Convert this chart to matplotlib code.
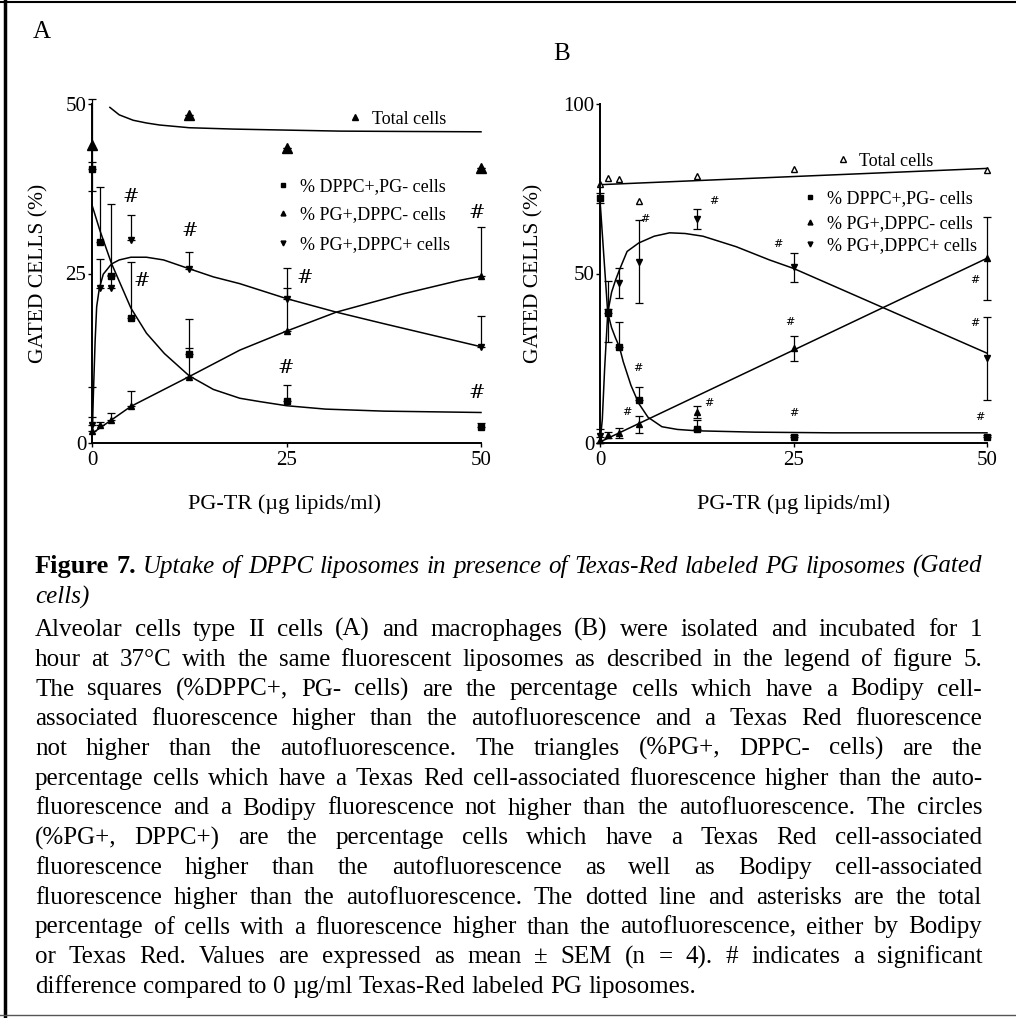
import matplotlib
matplotlib.use("Agg")
import matplotlib.pyplot as plt
from matplotlib.lines import Line2D

plt.rcParams['font.family'] = ['Liberation Serif', 'DejaVu Serif']

# ---------------- data: panel A (alveolar type II cells) ----------------
xA = [0, 1, 2.5, 5, 12.5, 25, 50]
a_dppc = [40.4, 29.7, 24.7, 18.4, 13.2, 6.2, 2.3]
a_dppc_hi = [1.0, 8.0, 10.5, 8.3, 5.1, 2.4, 0.6]
a_pg = [1.7, 2.6, 3.4, 5.5, 9.8, 16.5, 24.6]
a_pg_hi = [2.2, 0.5, 1.0, 2.2, 4.2, 6.4, 7.2]
a_both = [2.6, 22.8, 22.8, 29.9, 25.7, 21.3, 14.2]
a_both_hi = [5.7, 4.3, 2.0, 3.8, 2.4, 4.5, 4.5]
xA_total = [0, 12.5, 25, 50]
a_total = [44.0, 48.4, 43.5, 40.6]
a_total_err = [6.8, 0, 0, 0]

# fitted curves
fitA_total_x = [2.3, 3.5, 5.3, 7, 8.7, 12.5, 18.2, 25, 31.9, 40, 50]
fitA_total_y = [49.5, 48.4, 47.6, 47.2, 46.9, 46.5, 46.3, 46.15, 46.0, 45.95, 45.9]
fitA_dppc_x = [0, 1, 2.5, 5, 7, 9.3, 12.5, 15.6, 19, 21.6, 25, 30, 37.5, 50]
fitA_dppc_y = [35.1, 31.4, 26.5, 19.9, 16.2, 13.2, 9.9, 7.9, 6.6, 6.1, 5.5, 5.0, 4.7, 4.5]
fitA_pg_x = [0, 2.5, 5, 12.5, 19, 25, 31.4, 40, 47.3, 50]
fitA_pg_y = [1.4, 3.4, 5.4, 9.8, 13.7, 16.5, 19.3, 22.0, 24.0, 24.6]
fitA_both_x = [0, 0.2, 0.4, 0.6, 0.94, 1.45, 2.5, 3.5, 5, 7, 9.2, 12.5, 15.6, 19, 25, 31.4, 37.5, 50]
fitA_both_y = [0.5, 8, 15, 20.1, 22.8, 24.9, 26.4, 27.0, 27.4, 27.4, 27.0, 25.7, 24.5, 23.5, 21.3, 19.3, 17.6, 14.2]

hashA_x = [5.0, 6.4, 12.6, 27.4, 24.9, 49.5, 49.4]
hashA_y = [36.3, 23.9, 31.3, 24.3, 11.0, 33.9, 7.4]

# ---------------- data: panel B (macrophages) ----------------
xB = [0, 1, 2.5, 5, 12.5, 25, 50]
b_dppc = [72.2, 38.4, 28.4, 12.7, 4.0, 1.9, 1.9]
b_dppc_lo = [1.5, 0, 0, 0, 0, 0, 0]
b_dppc_hi = [1.5, 1.0, 7.2, 3.9, 2.8, 0.6, 0.6]
b_pg = [0.9, 2.4, 2.9, 5.5, 9.2, 27.9, 54.5]
b_pg_err = [0.8, 0.8, 1.4, 2.5, 1.7, 3.6, 12.2]
b_both = [2.0, 38.7, 47.1, 53.5, 66.0, 51.8, 25.0]
b_both_err = [2.0, 9.0, 4.4, 12.3, 2.9, 4.3, 12.2]
b_total = [76.4, 78.1, 77.8, 71.4, 78.8, 80.7, 80.5]

fitB_total_x = [0, 50]
fitB_total_y = [76.2, 81.0]
fitB_dppc_x = [0, 0.5, 1, 1.5, 2, 2.5, 3, 4, 5, 6.2, 8, 10, 12.5, 20, 30, 50]
fitB_dppc_y = [71.7, 55, 38.4, 34, 31, 28.4, 24, 17, 11.7, 7.6, 4.8, 4.0, 3.6, 3.2, 3.0, 3.0]
fitB_pg_x = [0, 50]
fitB_pg_y = [0.3, 54.5]
fitB_both_x = [0, 0.3, 0.6, 1, 1.5, 2, 2.5, 3.5, 5, 7, 9, 11, 13.3, 17.6, 21.9, 25, 36.6, 50]
fitB_both_y = [0, 7, 22, 38.4, 44.5, 48, 51, 56.5, 59, 61, 62, 61.8, 61, 57.9, 54.0, 51.5, 39.9, 26.5]

hashB_x = [3.5, 4.9, 5.8, 14.0, 14.7, 23.0, 24.5, 25.0, 48.4, 48.4, 49.1]
hashB_y = [9.2, 22.0, 66.0, 11.9, 71.4, 58.7, 35.8, 8.8, 48.1, 35.5, 7.8]

legend_labels = ["% DPPC+,PG- cells", "% PG+,DPPC- cells", "% PG+,DPPC+ cells"]
total_label = "Total cells"
ylabel = "GATED CELLS (%)"
xlabel = "PG-TR (\u00b5g lipids/ml)"

caption_title = "Uptake of DPPC liposomes in presence of Texas-Red labeled PG liposomes (Gated"
caption_title2 = "cells)"
caption_lines = [
    "Alveolar cells type II cells (A) and macrophages (B) were isolated and incubated for 1",
    "hour at 37\u00b0C with the same fluorescent liposomes as described in the legend of figure 5.",
    "The squares (%DPPC+, PG- cells) are the percentage cells which have a Bodipy cell-",
    "associated fluorescence higher than the autofluorescence and a Texas Red fluorescence",
    "not higher than the autofluorescence. The triangles (%PG+, DPPC- cells) are the",
    "percentage cells which have a Texas Red cell-associated fluorescence higher than the auto-",
    "fluorescence and a Bodipy fluorescence not higher than the autofluorescence. The circles",
    "(%PG+, DPPC+) are the percentage cells which have a Texas Red cell-associated",
    "fluorescence higher than the autofluorescence as well as Bodipy cell-associated",
    "fluorescence higher than the autofluorescence. The dotted line and asterisks are the total",
    "percentage of cells with a fluorescence higher than the autofluorescence, either by Bodipy",
    "or Texas Red. Values are expressed as mean \u00b1 SEM (n = 4). # indicates a significant",
    "difference compared to 0 \u00b5g/ml Texas-Red labeled PG liposomes.",
]

# ---------------- figure ----------------
W, H = 1016, 1018
fig = plt.figure(figsize=(W / 100, H / 100), dpi=100)
fig.patch.set_facecolor('white')


def fx(px):
    return px / W


def fy(py):
    return 1 - py / H


axA = fig.add_axes([fx(92), fy(443), (481 - 92) / W, (443 - 104) / H])
axB = fig.add_axes([fx(600), fy(443), (987 - 600) / W, (443 - 104) / H])

for ax in (axA, axB):
    ax.patch.set_alpha(0)
    for s in ('top', 'right'):
        ax.spines[s].set_visible(False)
    for s in ('left', 'bottom'):
        ax.spines[s].set_linewidth(1.4)
    ax.set_xlim(0, 50)
    ax.set_xticks([0, 25, 50])
    ax.tick_params(axis='x', direction='out', length=3, width=1, labelsize=15, pad=3)
    ax.tick_params(axis='y', direction='out', length=3, width=1, labelsize=15, pad=1)
    ax.set_ylabel(ylabel, fontsize=15.5)
    ax.set_xlabel(xlabel, fontsize=16)

axA.set_ylim(0, 50)
axA.set_yticks([0, 25, 50])
axB.set_ylim(0, 100)
axB.set_yticks([0, 50, 100])
axA.yaxis.set_label_coords((48 - 92) / 389, 0.5)
axB.yaxis.set_label_coords((543 - 600) / 387, 0.5)
axA.xaxis.set_label_coords(0.496, -0.15)
axB.xaxis.set_label_coords(0.501, -0.15)

lw = 1.1
ekw = dict(fmt='none', ecolor='black', elinewidth=0.9, capsize=3, capthick=0.9, clip_on=False)

# ---- Panel A ----
axA.plot(fitA_total_x, fitA_total_y, color='black', lw=lw, clip_on=False)
axA.plot(fitA_dppc_x, fitA_dppc_y, color='black', lw=lw, clip_on=False)
axA.plot(fitA_pg_x, fitA_pg_y, color='black', lw=lw, clip_on=False)
axA.plot(fitA_both_x, fitA_both_y, color='black', lw=lw, clip_on=False)
zeros = [0] * len(xA)
axA.errorbar(xA, a_dppc, yerr=[zeros, a_dppc_hi], **ekw)
axA.errorbar(xA, a_pg, yerr=[zeros, a_pg_hi], **ekw)
axA.errorbar(xA, a_both, yerr=[zeros, a_both_hi], **ekw)
axA.errorbar(xA_total, a_total, yerr=a_total_err, **ekw)
axA.plot(xA, a_dppc, 's', color='black', ms=4, clip_on=False)
axA.plot(xA, a_pg, '^', color='black', ms=4, clip_on=False)
axA.plot(xA, a_both, 'v', color='black', ms=4, clip_on=False)
axA.plot(xA_total, a_total, '^', color='black', ms=6.5, clip_on=False)
for hx, hy in zip(hashA_x, hashA_y):
    axA.text(hx, hy, '#', ha='center', va='center', fontsize=14, family='DejaVu Serif')

# ---- Panel B ----
axB.plot(fitB_total_x, fitB_total_y, color='black', lw=lw, clip_on=False)
axB.plot(fitB_dppc_x, fitB_dppc_y, color='black', lw=lw, clip_on=False)
axB.plot(fitB_pg_x, fitB_pg_y, color='black', lw=lw, clip_on=False)
axB.plot(fitB_both_x, fitB_both_y, color='black', lw=lw, clip_on=False)
axB.errorbar(xB, b_dppc, yerr=[b_dppc_lo, b_dppc_hi], **ekw)
axB.errorbar(xB, b_pg, yerr=b_pg_err, **ekw)
axB.errorbar(xB, b_both, yerr=b_both_err, **ekw)
axB.plot(xB, b_dppc, 's', color='black', ms=4, clip_on=False)
axB.plot(xB, b_pg, '^', color='black', ms=4, clip_on=False)
axB.plot(xB, b_both, 'v', color='black', ms=4, clip_on=False)
axB.plot(xB, b_total, '^', mfc='white', mec='black', mew=1, ms=5, clip_on=False)
for hx, hy in zip(hashB_x, hashB_y):
    axB.text(hx, hy, '#', ha='center', va='center', fontsize=8, family='DejaVu Serif')


# ---- legends (figure pixel positions) ----
def marker_at(px, py, m, ms, filled=True):
    fig.add_artist(Line2D([fx(px)], [fy(py)], marker=m, ms=ms, color='black',
                          mfc='black' if filled else 'white', mec='black',
                          linestyle='none', transform=fig.transFigure))


leg_markers = ['s', '^', 'v']
legA_rows = [185, 213, 243]
legB_rows = [197, 222, 244]
for m, lab, ry in zip(leg_markers, legend_labels, legA_rows):
    marker_at(283, ry, m, 3.5)
    fig.text(fx(300), fy(ry), lab, ha='left', va='center_baseline', fontsize=13)
for m, lab, ry in zip(leg_markers, legend_labels, legB_rows):
    marker_at(810, ry, m, 3.5)
    fig.text(fx(827), fy(ry), lab, ha='left', va='center_baseline', fontsize=13)
marker_at(355, 117, '^', 5)
fig.text(fx(372), fy(117), total_label, ha='left', va='center_baseline', fontsize=13)
marker_at(843, 159, '^', 4.5, filled=False)
fig.text(fx(859), fy(159), total_label, ha='left', va='center_baseline', fontsize=13)

# panel letters
fig.text(fx(33), fy(30), "A", fontsize=18, ha='left', va='center_baseline')
fig.text(fx(553), fy(52), "B", fontsize=18, ha='left', va='center_baseline')

# frame lines
fig.add_artist(Line2D([fx(5), fx(5)], [0, 1], color='black', lw=2.5, transform=fig.transFigure))
fig.add_artist(Line2D([0, 1], [fy(2), fy(2)], color='black', lw=1.5, transform=fig.transFigure))
fig.add_artist(Line2D([0, 1], [fy(1015), fy(1015)], color='#555555', lw=1.0, transform=fig.transFigure))

# ---- caption with justified lines ----
renderer = fig.canvas.get_renderer()
CAP_FS = 18


def measure(s, kw):
    t = fig.text(0, 0, s, **kw)
    w = t.get_window_extent(renderer).width
    t.remove()
    return w


def place_line(words, y, x0=35, x1=982, justify=True):
    # words: list of (text, style dict without fontsize, size offset)
    fs = CAP_FS
    while True:
        kws = [dict(st, fontsize=fs + off) for _, st, off in words]
        widths = [measure(w, kw) for (w, _, _), kw in zip(words, kws)]
        sp = measure('a a', kws[-1]) - measure('aa', kws[-1])
        if not justify or len(words) < 2:
            gap = sp
            break
        gap = (x1 - x0 - sum(widths)) / (len(words) - 1)
        if gap >= 0.55 * sp or fs < 12:
            break
        fs -= 0.25
    x = x0
    for (w, _, _), kw, wd in zip(words, kws, widths):
        fig.text(fx(x), fy(y), w, ha='left', va='baseline', **kw)
        x += wd + gap


body_st = dict()
ital_st = dict(style='italic')
bold_st = dict(weight='bold')

base_off = 7
title_words = [("Figure", bold_st, 1), ("7.", bold_st, 1)] + [(w, ital_st, 0) for w in caption_title.split()]
place_line(title_words, 566 + base_off)
place_line([(caption_title2, ital_st, 0)], 597 + base_off, justify=False)
for i, line in enumerate(caption_lines):
    y = 629 + 29.75 * i + base_off
    words = [(w, body_st, 0) for w in line.split()]
    place_line(words, y, justify=(i != len(caption_lines) - 1))

fig.savefig("out.png", dpi=100, facecolor='white')
